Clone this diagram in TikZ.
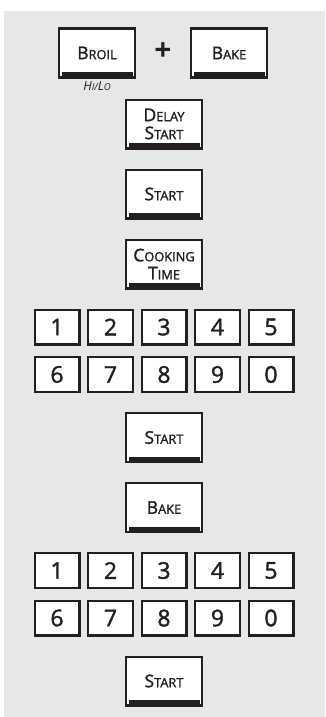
\documentclass[tikz,border=0pt]{standalone}
\usepackage{fontspec}
\setmainfont{Open Sans}
\newfontfamily\keyfont{Open Sans}[FakeBold=1.6]
\usepackage{tikz}
\usetikzlibrary{positioning, calc}
\definecolor{panelgray}{HTML}{E6E7E8}
\definecolor{keyblack}{HTML}{231F20}
% fake small caps: big initial, smaller capitals
\newcommand{\capsc}[2]{{\fontsize{17.5}{19}\selectfont #1}{\fontsize{12.8}{19}\selectfont #2}}
\newcommand{\tinysc}[2]{{\fontsize{12.5}{14}\selectfont #1}{\fontsize{9.5}{14}\selectfont #2}}

\begin{document}
\begin{tikzpicture}[
    x=1pt, y=-1pt,
    key/.style={rectangle, draw=keyblack, fill=white, line width=2.4pt,
                minimum width=75.6pt, minimum height=48.6pt, inner sep=0pt,
                align=center, text=keyblack, font=\keyfont\fontsize{12.8}{16}\selectfont},
    digit/.style={key, minimum width=44.6pt, minimum height=34.6pt,
                  font=\keyfont\fontsize{23}{24}\selectfont},
    node distance=19pt
]
    \useasboundingbox (0,0) rectangle (325,717);
    \fill[panelgray] (4,11) rectangle (325,717);

    % Broil + Bake
    \node[key] (broil) at (97,53) {\capsc{B}{ROIL}};
    \node[key] (bake) at (229,53) {\capsc{B}{AKE}};
    \node[text=keyblack, font=\bfseries\fontsize{30}{30}\selectfont] (plus) at (163,52) {+};
    \node[text=keyblack, font=\itshape] (hilo) at (97,86) {\tinysc{H}{I}/\tinysc{L}{O}};

    % main column
    \node[key] (delay) at (164,124) {\capsc{D}{ELAY}\\[2pt]\capsc{S}{TART}};
    \node[key, below=of delay] (start1) {\capsc{S}{TART}};
    \node[key, below=of start1] (cook) {\capsc{C}{OOKING}\\[2pt]\capsc{T}{IME}};

    % first keypad
    \node[digit, below=of cook] (a3) {3};
    \node[digit, left=6.5pt of a3] (a2) {2};
    \node[digit, left=6.5pt of a2] (a1) {1};
    \node[digit, right=6.5pt of a3] (a4) {4};
    \node[digit, right=6.5pt of a4] (a5) {5};
    \foreach \n/\d in {1/6,2/7,3/8,4/9,5/0}
        \node[digit, below=10.5pt of a\n] (b\n) {\d};

    \node[key, below=of b3] (start2) {\capsc{S}{TART}};
    \node[key, below=of start2] (bake2) {\capsc{B}{AKE}};

    % second keypad
    \node[digit, below=of bake2] (c3) {3};
    \node[digit, left=6.5pt of c3] (c2) {2};
    \node[digit, left=6.5pt of c2] (c1) {1};
    \node[digit, right=6.5pt of c3] (c4) {4};
    \node[digit, right=6.5pt of c4] (c5) {5};
    \foreach \n/\d in {1/6,2/7,3/8,4/9,5/0}
        \node[digit, below=10.5pt of c\n] (d\n) {\d};

    \node[key, below=of d3] (start3) {\capsc{S}{TART}};

    % bottom bars of the function keys
    \foreach \k in {broil,bake,delay,start1,cook,start2,bake2,start3}
        \fill[keyblack] ($(\k.south west)+(3.5,-2.4)$) rectangle ($(\k.south east)+(-3.5,-6.4)$);
\end{tikzpicture}
\end{document}
